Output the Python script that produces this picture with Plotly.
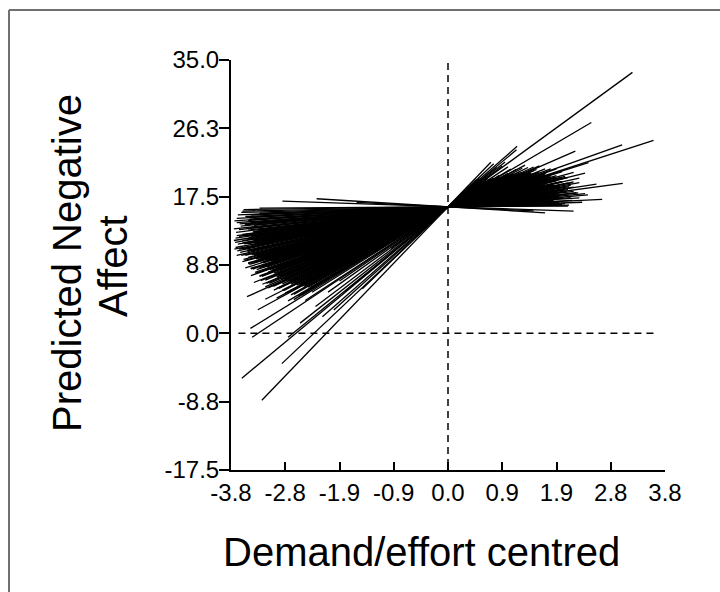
import plotly.graph_objects as go

# ---------------- data ----------------
intercept = 16.2  # common predicted value at x = 0

x_start = [-2.3, -1.6, -2.9, -3.45, -3.6, -3.3, -3.55, -3.7, -3.5, -3.65,
           -3.4, -3.75, -3.6, -3.5, -3.3, -3.7, -3.55, -3.45, -3.75, -3.6,
           -3.4, -3.68, -3.5, -3.72, -3.3, -3.6, -3.64, -3.45, -3.74, -3.55,
           -3.4, -3.5, -3.35, -3.6, -3.25, -3.5, -3.45, -3.3, -3.4, -3.2,
           -3.55, -3.1, -3.35, -3.0, -3.25, -3.45, -3.15, -3.3, -2.95, -3.2,
           -3.4, -3.1, -3.52, -3.0, -3.25, -2.85, -3.33, -3.15, -2.9, -3.05,
           -2.75, -3.2, -2.6, -3.0, -2.5, -2.8, -3.46, -3.43, -2.7, -2.32,
           -2.59, -2.8, -3.61, -2.91, -3.26, -1.0, -2.2,
           -3.62, -3.48, -3.7, -3.56, -3.66, -3.42, -3.72, -3.5, -3.6, -3.38,
           -3.66, -3.52, -3.7, -3.44, -3.58, -3.36, -3.5, -3.28, -3.46, -3.22,
           -3.38, -3.12, -3.3, -3.05, -3.28, -2.98, -3.18, -2.92, -3.1, -2.82,
           -3.0, -2.72, -2.9, -2.65, -2.85, -2.55, -2.75, -2.45, -2.62, -2.38,
           -2.5, -2.1, -1.8, -2.0, -1.5, -3.3, -3.55, -3.2, -3.45, -3.35,
           -2.6, -1.9,
           -3.58, -3.68, -3.52, -3.74, -3.46, -3.63, -3.53, -3.71, -3.41, -3.66,
           -3.49, -3.73, -3.57, -3.43, -3.69, -3.51, -3.62, -3.39, -3.56, -3.33,
           -3.48, -3.24, -3.42, -3.17, -3.36, -3.08, -3.26, -3.02, -3.2, -2.94,
           -3.13, -2.87, -3.06, -2.78, -2.96, -2.69, -2.88, -2.6, -2.8, -2.52,
           -2.7, -2.42, -2.56]

x_end = [1.7, 1.5, 2.2, 1.9, 2.0, 2.1, 2.7, 1.8, 2.3, 1.6,
         2.4, 2.0, 3.06, 1.9, 2.2, 1.7, 2.1, 1.8, 2.2, 1.5,
         2.0, 1.9, 2.3, 1.6, 2.1, 1.8, 2.0, 1.7, 2.2, 1.9,
         2.4, 1.4, 2.0, 1.75, 2.2, 1.6, 2.46, 3.6, 1.9, 1.8,
         1.5, 2.0, 1.7, 3.05, 1.6, 1.9, 1.4, 1.8, 1.5, 2.23,
         1.7, 1.3, 1.6, 1.45, 1.2, 1.55, 1.35, 1.25, 1.5, 1.1,
         1.4, 1.15, 1.3, 1.0, 1.2, 2.51, 0.9, 1.05, 1.1, 0.95,
         1.0, 0.85, 1.2, 0.8, 0.75, 3.23, 1.21,
         2.05, 1.85, 2.15, 1.95, 2.25, 1.75, 2.05, 1.65, 2.15, 1.95,
         1.85, 2.0, 1.7, 2.1, 1.55, 1.9, 1.75, 1.65, 1.85, 1.5,
         1.7, 1.55, 1.45, 1.6, 1.4, 1.3, 1.5, 1.25, 1.35, 1.2,
         1.15, 1.25, 1.05, 1.1, 1.0, 0.95, 1.05, 0.9, 0.85, 0.8,
         0.75, 0.7, 0.6, 0.55, 0.5, 2.35, 2.45, 2.6, 2.3, 2.05,
         1.55, 0.65,
         2.12, 1.95, 2.18, 1.72, 2.02, 1.88, 2.28, 1.66, 2.08, 1.92,
         1.78, 2.12, 1.62, 2.18, 1.82, 1.98, 1.58, 2.06, 1.68, 1.88,
         1.52, 1.78, 1.62, 1.48, 1.72, 1.42, 1.56, 1.36, 1.46, 1.28,
         1.32, 1.22, 1.18, 1.28, 1.08, 1.12, 1.02, 1.06, 0.98, 0.92,
         0.88, 0.86, 0.82]

slopes = [-0.45, -0.35, -0.25, 0.3, 0.15, 0.05, 0.35, 0.4, 0.5, 0.6,
          0.7, 0.75, 0.98, 0.85, 0.9, 1.0, 1.05, 1.1, 1.15, 1.2,
          1.25, 1.3, 1.35, 1.4, 1.45, 1.5, 1.6, 1.65, 1.45, 1.75,
          1.8, 1.85, 1.9, 1.95, 2.0, 2.05, 2.3, 2.36, 2.1, 2.15,
          2.2, 2.25, 2.4, 2.6, 2.5, 2.55, 2.65, 2.7, 2.75, 3.2,
          2.85, 2.9, 3.27, 3.0, 3.05, 3.1, 3.96, 3.3, 3.4, 3.5,
          3.6, 3.7, 3.8, 3.9, 4.0, 4.3, 4.5, 4.87, 4.4, 5.5,
          5.75, 5.96, 6.08, 6.9, 7.6, 5.33, 6.4,
          0.2, 0.45, 0.55, 0.65, 0.8, 0.95, 1.08, 1.18, 1.28, 1.38,
          1.48, 1.58, 1.68, 1.78, 1.88, 1.98, 2.08, 2.18, 2.28, 2.38,
          2.48, 2.58, 2.68, 2.78, 2.88, 2.98, 3.08, 3.18, 3.28, 3.38,
          3.48, 3.58, 3.68, 3.78, 3.88, 3.98, 4.1, 4.2, 4.35, 4.6,
          4.8, 5.2, 6.0, 6.6, 7.0, 0.25, 0.62, 1.12, 1.6, 1.9,
          2.5, 5.0,
          0.1, 0.28, 0.38, 0.48, 0.58, 0.68, 0.78, 0.88, 0.93, 1.03,
          1.13, 1.22, 1.33, 1.42, 1.53, 1.63, 1.72, 1.83, 1.93, 2.03,
          2.12, 2.22, 2.33, 2.43, 2.53, 2.63, 2.73, 2.83, 2.93, 3.03,
          3.13, 3.23, 3.33, 3.43, 3.53, 3.63, 3.73, 3.83, 3.93, 4.05,
          4.15, 4.28, 4.42]

# reference lines
h_ref_x = [-3.67, 3.67]
h_ref_y = [0.0, 0.0]
v_ref_x = [0.0, 0.0]
v_ref_y = [34.6, -17.5]

x_tickvals = [-3.8, -2.85, -1.9, -0.95, 0.0, 0.95, 1.9, 2.85, 3.8]
x_ticktext = ["-3.8", "-2.8", "-1.9", "-0.9", "0.0", "0.9", "1.9", "2.8", "3.8"]
y_tickvals = [-17.5, -8.75, 0.0, 8.75, 17.5, 26.25, 35.0]
y_ticktext = ["-17.5", "-8.8", "0.0", "8.8", "17.5", "26.3", "35.0"]

# ---------------- figure ----------------
FONT = "Arial, 'Liberation Sans', sans-serif"
W, H = 720, 592
L, R, T, B = 231, 55, 60, 122
PW, PH = W - L - R, H - T - B


def px_x(p):
    return (p - L) / PW


def px_y(p):
    return (H - B - p) / PH


xs, ys = [], []
for a, b, s in zip(x_start, x_end, slopes):
    xs += [a, b, None]
    ys += [intercept + s * a, intercept + s * b, None]

fig = go.Figure()
fig.add_trace(go.Scatter(x=h_ref_x, y=h_ref_y, mode="lines",
                         line=dict(color="black", width=1.5, dash="7px,5px"),
                         hoverinfo="skip", showlegend=False))
fig.add_trace(go.Scatter(x=v_ref_x, y=v_ref_y, mode="lines",
                         line=dict(color="black", width=1.5, dash="7px,5px"),
                         hoverinfo="skip", showlegend=False))
fig.add_trace(go.Scatter(x=xs, y=ys, mode="lines",
                         line=dict(color="black", width=1.3),
                         hoverinfo="skip", showlegend=False))

fig.update_layout(
    width=W, height=H,
    margin=dict(l=L, r=R, t=T, b=B, pad=0),
    paper_bgcolor="white", plot_bgcolor="white",
    font=dict(family=FONT, color="black"),
    showlegend=False,
    xaxis=dict(range=[-3.8, 3.8], tickvals=x_tickvals, ticktext=x_ticktext,
               showgrid=False, zeroline=False, showline=True,
               linecolor="black", linewidth=2, ticks="inside", ticklen=8,
               tickwidth=2, tickcolor="black",
               tickfont=dict(size=24, family=FONT, color="black")),
    yaxis=dict(range=[-17.5, 35], tickvals=y_tickvals, ticktext=y_ticktext,
               showgrid=False, zeroline=False, showline=True,
               linecolor="black", linewidth=2, ticks="outside", ticklen=10,
               tickwidth=2, tickcolor="black", ticklabelstandoff=-5,
               tickfont=dict(size=24, family=FONT, color="black")),
    annotations=[
        dict(text="Demand/effort centred", xref="paper", yref="paper",
             x=px_x(421), y=px_y(552), xanchor="center", yanchor="middle",
             showarrow=False, font=dict(size=40, family=FONT, color="black")),
        dict(text="Predicted Negative", xref="paper", yref="paper",
             x=px_x(67), y=px_y(263), xanchor="center", yanchor="middle",
             textangle=-90, showarrow=False,
             font=dict(size=40, family=FONT, color="black")),
        dict(text="Affect", xref="paper", yref="paper",
             x=px_x(113), y=px_y(266), xanchor="center", yanchor="middle",
             textangle=-90, showarrow=False,
             font=dict(size=40, family=FONT, color="black")),
    ],
    shapes=[
        dict(type="line", xref="paper", yref="paper",
             x0=px_x(9), y0=px_y(10), x1=px_x(730), y1=px_y(10),
             line=dict(color="#707070", width=2)),
        dict(type="line", xref="paper", yref="paper",
             x0=px_x(9), y0=px_y(10), x1=px_x(9), y1=px_y(600),
             line=dict(color="#707070", width=2)),
    ],
)

fig.write_html("out.html")
